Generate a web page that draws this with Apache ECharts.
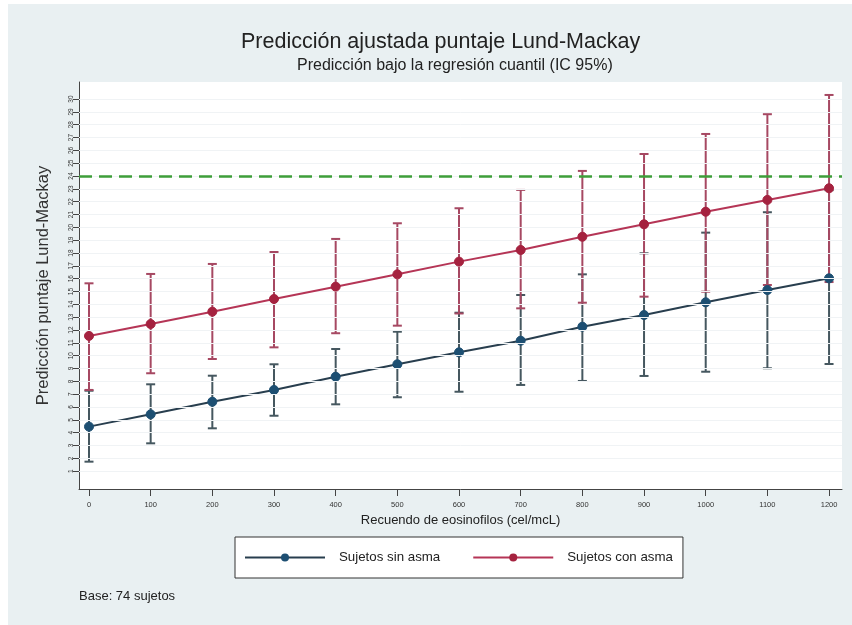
<!DOCTYPE html>
<html>
<head>
<meta charset="utf-8">
<script src="https://cdn.jsdelivr.net/npm/echarts@6/dist/echarts.min.js"></script>
<style>
html,body{margin:0;padding:0;background:#fff;}
#c{width:852px;height:625px;}
</style>
</head>
<body>
<div id="c"></div>
<script>
const xVals = [0, 100, 200, 300, 400, 500, 600, 700, 800, 900, 1000, 1100, 1200];
const sinPred = [4.47, 5.43, 6.41, 7.33, 8.36, 9.33, 10.26, 11.17, 12.26, 13.17, 14.16, 15.12, 16.03];
const sinLow  = [1.74, 3.17, 4.34, 5.32, 6.21, 6.76, 7.19, 7.72, 8.03, 8.42, 8.75, 9.02, 9.35];
const sinHigh = [7.27, 7.77, 8.44, 9.33, 10.52, 11.87, 13.35, 14.73, 16.34, 17.98, 19.59, 21.18, 22.9];
const conPred = [11.54, 12.47, 13.43, 14.42, 15.38, 16.34, 17.33, 18.24, 19.27, 20.24, 21.22, 22.14, 23.05];
const conLow  = [7.33, 8.63, 9.74, 10.65, 11.75, 12.34, 13.29, 13.69, 14.13, 14.6, 14.99, 15.51, 15.74];
const conHigh = [15.64, 16.37, 17.15, 18.08, 19.1, 20.32, 21.49, 22.92, 24.4, 25.72, 27.28, 28.82, 30.32];
const yTicks = [1,2,3,4,5,6,7,8,9,10,11,12,13,14,15,16,17,18,19,20,21,22,23,24,25,26,27,28,29,30];
const xTicks = [0, 100, 200, 300, 400, 500, 600, 700, 800, 900, 1000, 1100, 1200];
const refLine = 24;
const seriesNames = ['Sujetos sin asma', 'Sujetos con asma'];

const FONT = 'Liberation Sans, Arial, sans-serif';
const chart = echarts.init(document.getElementById('c'), null, {renderer: 'canvas'});

function errData(lo, hi) {
  return xVals.map((x, i) => [x, lo[i], hi[i]]);
}
function errRender(color) {
  return function (params, api) {
    const x = api.value(0);
    const p1 = api.coord([x, api.value(1)]);
    const p2 = api.coord([x, api.value(2)]);
    const w = 4.5;
    const st = {stroke: color, lineWidth: 2};
    return {
      type: 'group',
      children: [
        {type: 'line', shape: {x1: p1[0], y1: p1[1], x2: p2[0], y2: p2[1]}, style: st},
        {type: 'line', shape: {x1: p1[0] - w, y1: p1[1], x2: p1[0] + w, y2: p1[1]}, style: st},
        {type: 'line', shape: {x1: p2[0] - w, y1: p2[1], x2: p2[0] + w, y2: p2[1]}, style: st}
      ]
    };
  };
}

const option = {
  backgroundColor: '#fff',
  animation: false,
  graphic: [
    {type: 'rect', left: 8, top: 4, shape: {width: 844, height: 621}, style: {fill: '#E9F0F2'}, z: -10, silent: true},
    {type: 'rect', left: 79, top: 82, shape: {width: 763, height: 407}, style: {fill: '#ffffff'}, z: -9, silent: true},
    {type: 'text', left: 79, top: 590, style: {text: 'Base: 74 sujetos', font: '13px ' + FONT, fill: '#222'}}
  ],
  title: [
    {text: 'Predicción ajustada puntaje Lund-Mackay', left: 236, top: 26,
     textStyle: {fontSize: 21.5, fontWeight: 'normal', color: '#222', fontFamily: FONT}},
    {text: 'Predicción bajo la regresión cuantil (IC 95%)', left: 292, top: 53,
     textStyle: {fontSize: 16, fontWeight: 'normal', color: '#222', fontFamily: FONT}}
  ],
  legend: {
    data: seriesNames,
    left: 235, top: 537,
    orient: 'horizontal',
    padding: [14, 10, 14, 9],
    itemWidth: 80, itemHeight: 10, itemGap: 32,
    backgroundColor: '#ffffff',
    borderColor: '#333', borderWidth: 1, borderRadius: 0,
    textStyle: {fontSize: 13.3, color: '#222', fontFamily: FONT, padding: [0, 0, 0, 9]}
  },
  grid: {left: 79, right: 10, top: 82, bottom: 136, containLabel: false},
  xAxis: {
    type: 'value', min: -16.2, max: 1221,
    name: 'Recuendo de eosinofilos (cel/mcL)', nameLocation: 'middle', nameGap: 25,
    nameTextStyle: {fontSize: 13, color: '#222', fontFamily: FONT},
    axisLine: {show: true, onZero: false, lineStyle: {color: '#444', width: 1}},
    axisTick: {show: true, length: 7, customValues: xTicks, lineStyle: {color: '#444'}},
    axisLabel: {customValues: xTicks, fontSize: 7.5, color: '#333', fontFamily: FONT, margin: 12,
                formatter: v => String(v)},
    splitLine: {show: false}
  },
  yAxis: {
    type: 'value', min: -0.39, max: 31.33,
    name: 'Predicción puntaje Lund-Mackay', nameLocation: 'middle', nameGap: 27, nameRotate: 90,
    nameTextStyle: {fontSize: 16.5, color: '#333', fontFamily: FONT},
    axisLine: {show: true, onZero: false, lineStyle: {color: '#444', width: 1}},
    axisTick: {show: true, length: 6, customValues: yTicks, lineStyle: {color: '#444'}},
    axisLabel: {customValues: yTicks, rotate: 90, fontSize: 6.5, color: '#333', fontFamily: FONT, margin: 4},
    splitLine: {show: false}
  },
  series: [
    {
      name: 'grid', type: 'line', data: [], silent: true,
      markLine: {
        silent: true, symbol: 'none', label: {show: false},
        lineStyle: {color: '#F0F3F5', width: 1, type: 'solid'},
        data: yTicks.map(v => ({yAxis: v}))
      },
      z: 0
    },
    {
      name: 'ref', type: 'line', data: [], silent: true,
      markLine: {
        silent: true, symbol: 'none', label: {show: false},
        lineStyle: {color: '#3E9E3A', width: 2.5, type: [13, 7]},
        data: [{yAxis: refLine}]
      },
      z: 1
    },
    {type: 'custom', name: 'sinErr', data: errData(sinLow, sinHigh), renderItem: errRender('#45575F'), z: 2},
    {type: 'custom', name: 'conErr', data: errData(conLow, conHigh), renderItem: errRender('#A64862'), z: 3},
    {
      name: seriesNames[0], type: 'line', data: xVals.map((x, i) => [x, sinPred[i]]),
      symbol: 'circle', symbolSize: 9, showSymbol: true,
      lineStyle: {color: '#283E4E', width: 2},
      itemStyle: {color: '#1D4F72', borderColor: '#1D4F72'}, z: 4
    },
    {
      name: seriesNames[1], type: 'line', data: xVals.map((x, i) => [x, conPred[i]]),
      symbol: 'circle', symbolSize: 9, showSymbol: true,
      lineStyle: {color: '#B53556', width: 2},
      itemStyle: {color: '#A5223F', borderColor: '#A5223F'}, z: 5
    }
  ]
};
chart.setOption(option);
</script>
</body>
</html>
